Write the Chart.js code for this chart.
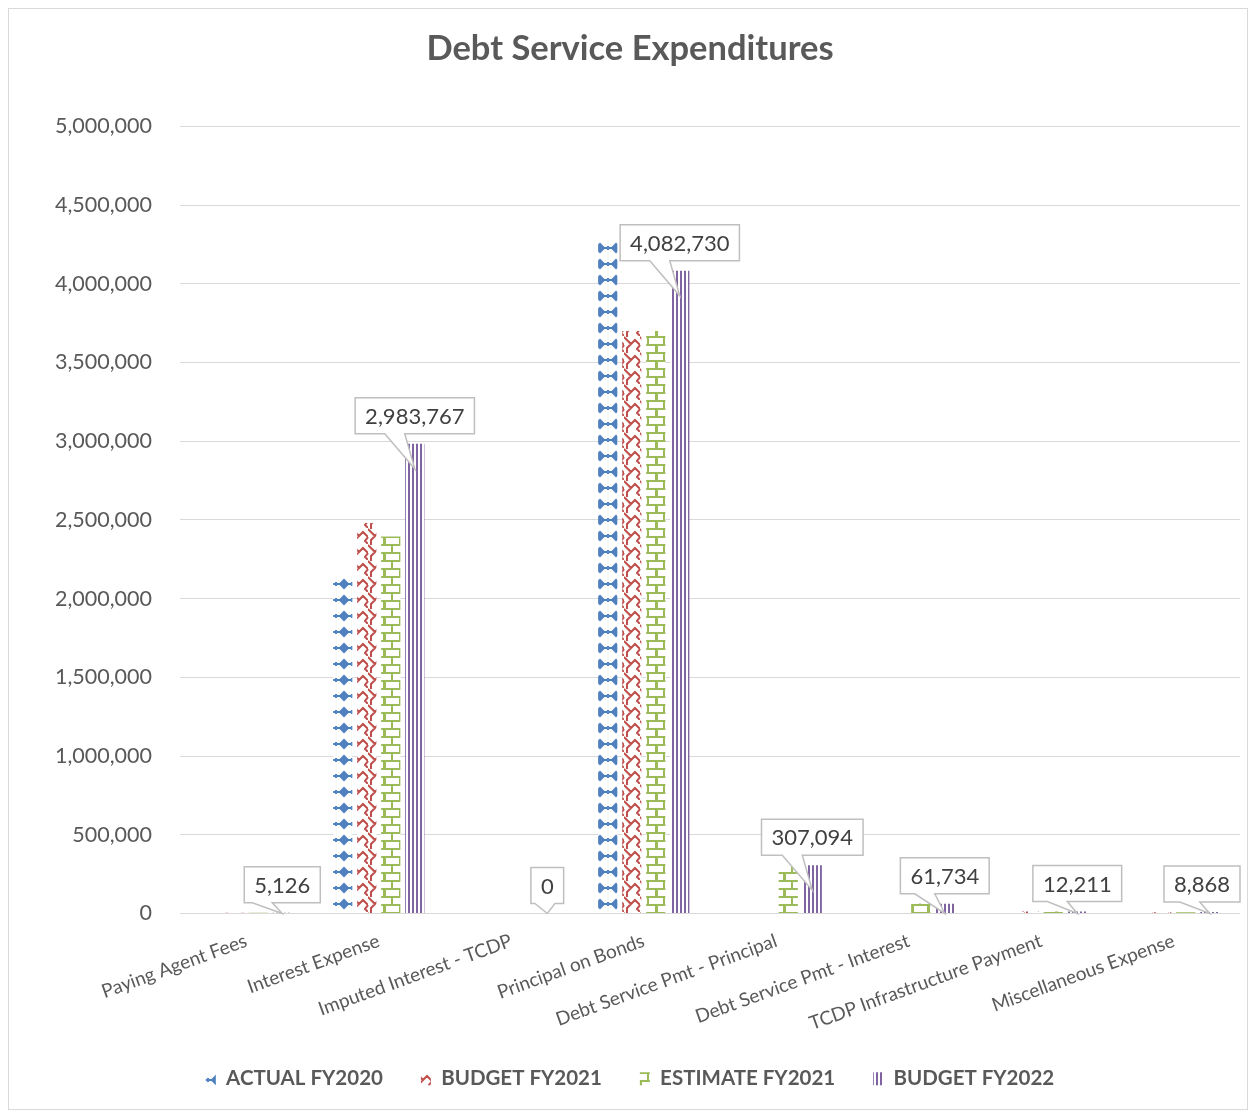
<!DOCTYPE html>
<html>
<head>
<meta charset="utf-8">
<title>Debt Service Expenditures</title>
<script src="https://cdn.jsdelivr.net/npm/chart.js@4.4.1/dist/chart.umd.min.js"></script>
<style>
  html, body { margin: 0; padding: 0; background: #ffffff; }
  #wrap { position: relative; width: 1250px; height: 1113px; }
</style>
</head>
<body>
<div id="wrap"><canvas id="chart" width="1250" height="1113"></canvas></div>
<script>
// Expenditure categories and the four fiscal-year series
const categories = [
  'Paying Agent Fees',
  'Interest Expense',
  'Imputed Interest - TCDP',
  'Principal on Bonds',
  'Debt Service Pmt - Principal',
  'Debt Service Pmt - Interest',
  'TCDP Infrastructure Payment',
  'Miscellaneous Expense'
];
const seriesNames = ['ACTUAL FY2020', 'BUDGET FY2021', 'ESTIMATE FY2021', 'BUDGET FY2022'];
const actualFY2020   = [4800, 2145000, 0, 4290000, 0, 0, 11500, 9000];
const budgetFY2021   = [5000, 2480000, 0, 3700000, 0, 0, 12000, 8500];
const estimateFY2021 = [5000, 2395000, 0, 3700000, 300000, 64000, 12000, 8500];
const budgetFY2022   = [5126, 2983767, 0, 4082730, 307094, 61734, 12211, 8868];
const yTicks = [0, 500000, 1000000, 1500000, 2000000, 2500000, 3000000, 3500000, 4000000, 4500000, 5000000];

const FONT = 'Lato';
const GREY_TEXT = '#595959';
const GRID = '#d9d9d9';

// Pattern fills for the bars
function makeTile(w, h, draw) {
  const c = document.createElement('canvas');
  c.width = w; c.height = h;
  const g = c.getContext('2d');
  g.fillStyle = '#ffffff';
  g.fillRect(0, 0, w, h);
  draw(g);
  return document.createElement('canvas').getContext('2d').createPattern(c, 'repeat');
}

const diamondPattern = makeTile(16, 16, g => {
  g.fillStyle = '#4f81bd';
  g.beginPath();
  g.moveTo(8, 2.5); g.lineTo(13.5, 8); g.lineTo(8, 13.5); g.lineTo(2.5, 8); g.closePath();
  g.fill();
  g.fillRect(1, 7, 14, 2);
  g.beginPath();
  g.moveTo(0, 5.5); g.lineTo(2.5, 8); g.lineTo(0, 10.5); g.closePath(); g.fill();
  g.beginPath();
  g.moveTo(16, 5.5); g.lineTo(13.5, 8); g.lineTo(16, 10.5); g.closePath(); g.fill();
});

const wavePattern = makeTile(16, 16, g => {
  g.strokeStyle = '#c0504d';
  g.lineWidth = 2;
  g.beginPath();
  g.moveTo(0, 1); g.lineTo(7, 8); g.lineTo(11, 4); g.lineTo(16, 9);
  g.moveTo(7, 8); g.lineTo(3, 12); g.lineTo(3, 16);
  g.moveTo(3, 0); g.lineTo(3, 1);
  g.moveTo(16, 9); g.lineTo(13, 13); g.lineTo(16, 16);
  g.moveTo(0, 9); g.lineTo(-3, 13);
  g.stroke();
});

const brickPattern = makeTile(16, 16, g => {
  g.fillStyle = '#9bbb59';
  g.fillRect(0, 0, 16, 2);
  g.fillRect(0, 8, 16, 2);
  g.fillRect(7, 2, 2, 6);
  g.fillRect(0, 10, 2, 6);
  g.fillRect(15, 10, 1, 6);
});

const stripePattern = makeTile(4, 4, g => {
  g.fillStyle = '#8064a2';
  g.fillRect(0, 0, 2, 4);
});

const fills = [diamondPattern, wavePattern, brickPattern, stripePattern];
const seriesData = [actualFY2020, budgetFY2021, estimateFY2021, budgetFY2022];

// Background and outer frame
const framePlugin = {
  id: 'frame',
  beforeDraw(chart) {
    const { ctx, width, height } = chart;
    ctx.save();
    ctx.fillStyle = '#ffffff';
    ctx.fillRect(0, 0, width, height);
    ctx.strokeStyle = GRID;
    ctx.lineWidth = 1;
    ctx.strokeRect(8.5, 8.5, width - 11, height - 12);
    ctx.restore();
  }
};

// Callout boxes with the value of the FY2022 budget bars
const calloutPlugin = {
  id: 'callouts',
  afterDatasetsDraw(chart) {
    const { ctx, chartArea } = chart;
    const meta = chart.getDatasetMeta(3);
    const base = chart.scales.y.getPixelForValue(0);
    ctx.save();
    ctx.font = '22px ' + FONT;
    meta.data.forEach((bar, i) => {
      const text = budgetFY2022[i].toLocaleString('en-US');
      const tw = ctx.measureText(text).width;
      const w = tw + 20, h = 36;
      const left = Math.min(Math.max(bar.x - w / 2, chartArea.left), chartArea.right - w);
      const right = left + w;
      const bottom = bar.y - 10;
      const top = bottom - h;
      const tipX = bar.x;
      const tipY = Math.min(bar.y + 25, base);
      let bl = Math.min(Math.max(tipX - 30, left + 4), right - 24);
      const br = bl + 20;
      ctx.beginPath();
      ctx.moveTo(left, top);
      ctx.lineTo(right, top);
      ctx.lineTo(right, bottom);
      ctx.lineTo(br, bottom);
      ctx.lineTo(tipX, tipY);
      ctx.lineTo(bl, bottom);
      ctx.lineTo(left, bottom);
      ctx.closePath();
      ctx.fillStyle = '#ffffff';
      ctx.fill();
      ctx.strokeStyle = '#bfbfbf';
      ctx.lineWidth = 1.5;
      ctx.stroke();
      ctx.fillStyle = '#404040';
      ctx.textAlign = 'center';
      ctx.textBaseline = 'middle';
      ctx.fillText(text, left + w / 2, top + h / 2 + 1);
    });
    ctx.restore();
  }
};

function build() {
  new Chart(document.getElementById('chart'), {
    type: 'bar',
    data: {
      labels: categories,
      datasets: seriesNames.map((name, k) => ({
        label: name,
        data: seriesData[k],
        backgroundColor: fills[k],
        borderWidth: 0,
        barPercentage: 0.8,
        categoryPercentage: 0.725
      }))
    },
    options: {
      responsive: false,
      animation: false,
      layout: { padding: { top: 12, left: 20, right: 10, bottom: 14 } },
      plugins: {
        title: {
          display: true,
          text: 'Debt Service Expenditures',
          color: GREY_TEXT,
          font: { family: FONT, size: 34.5, weight: 'bold' },
          padding: { top: 16, bottom: 57 }
        },
        legend: {
          position: 'bottom',
          labels: {
            color: GREY_TEXT,
            font: { family: FONT, size: 20.5, weight: 'bold' },
            boxWidth: 10,
            boxHeight: 13,
            padding: 38
          }
        },
        tooltip: { enabled: false }
      },
      scales: {
        x: {
          grid: { display: false, drawTicks: false },
          border: { display: false },
          ticks: {
            color: GREY_TEXT,
            font: { family: FONT, size: 19 },
            minRotation: 20,
            maxRotation: 20,
            autoSkip: false,
            padding: 16
          },
          afterFit(scale) { scale.height = 117; }
        },
        y: {
          min: 0,
          max: 5000000,
          afterBuildTicks(scale) { scale.ticks = yTicks.map(v => ({ value: v })); },
          grid: { color: GRID, lineWidth: 1, drawTicks: false },
          border: { display: false },
          ticks: {
            color: GREY_TEXT,
            font: { family: FONT, size: 21.5 },
            padding: 28,
            callback: v => Number(v).toLocaleString('en-US')
          },
          afterFit(scale) { scale.width = 160; }
        }
      }
    },
    plugins: [framePlugin, calloutPlugin]
  });
}

Promise.all([
  document.fonts.load('21px ' + FONT),
  document.fonts.load('bold 31px ' + FONT)
]).then(build, build);
</script>
</body>
</html>
